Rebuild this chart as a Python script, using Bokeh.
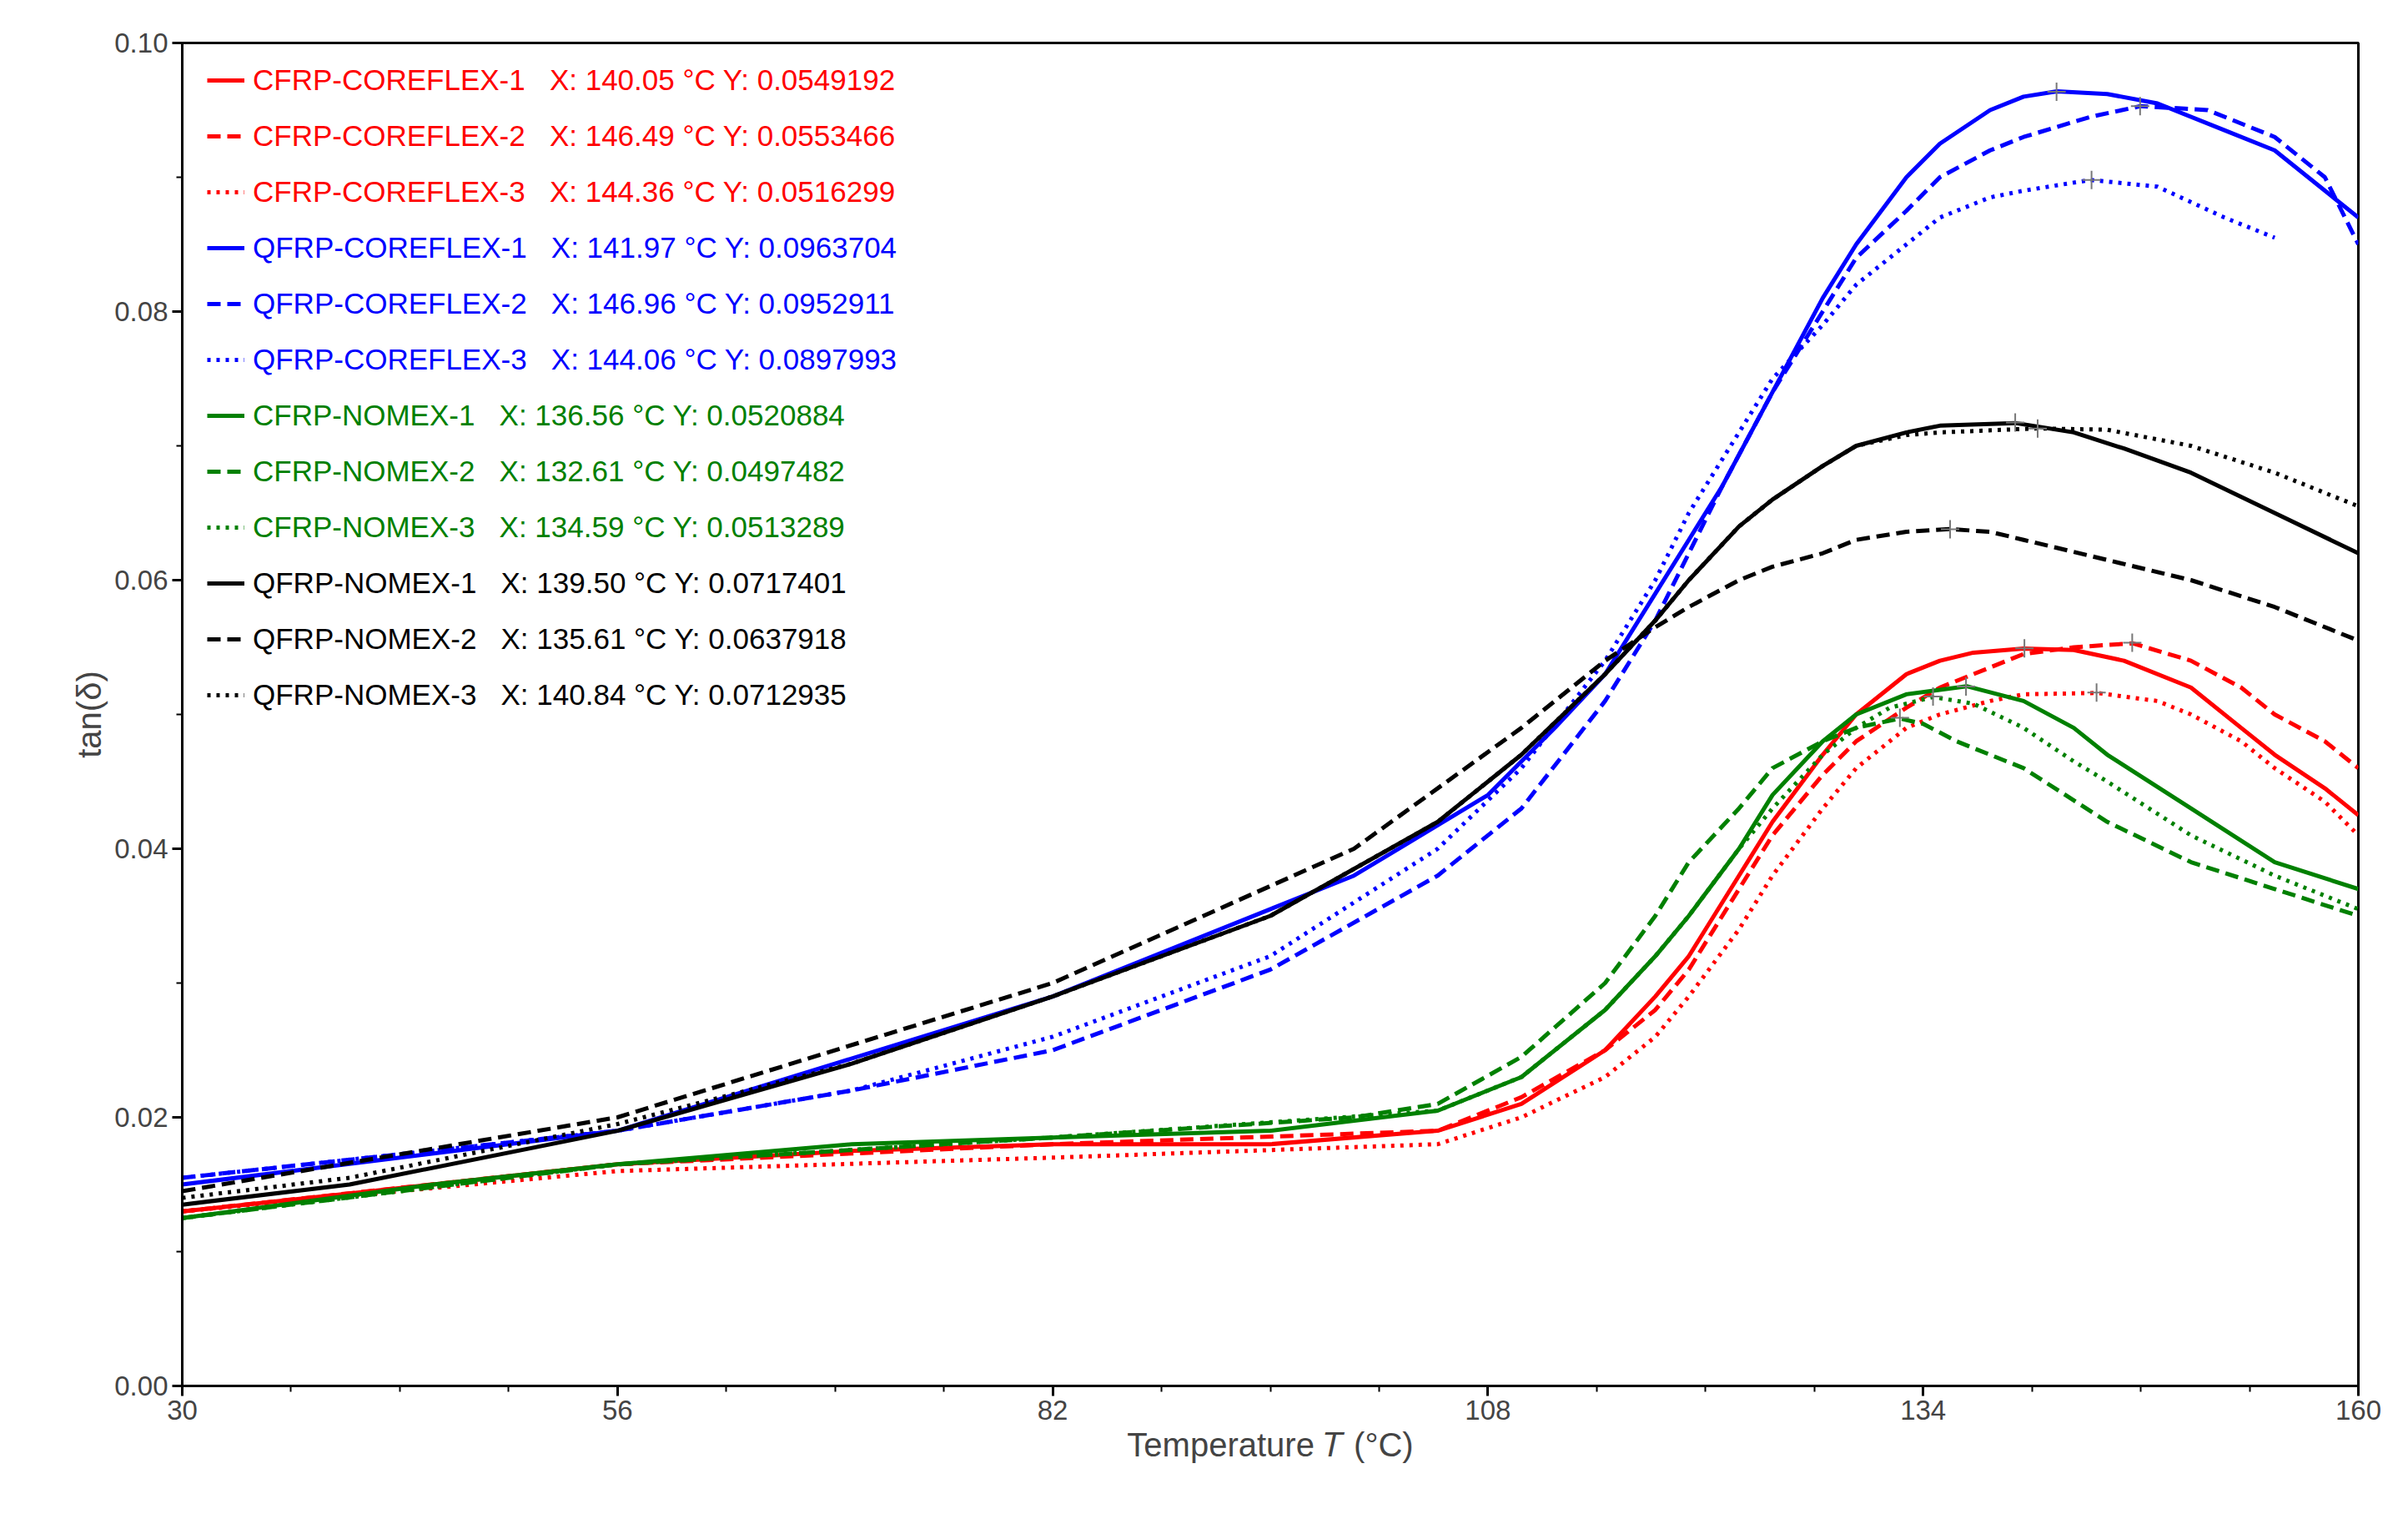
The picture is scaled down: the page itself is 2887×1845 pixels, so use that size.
from bokeh.plotting import figure
from bokeh.models import Legend, LegendItem, FixedTicker, Range1d, CustomJSTickFormatter
from bokeh.embed import file_html
from bokeh.resources import INLINE

# ---- data ----
qc1_x = [30,56,82,100,108,112,115,118,120,122,125,128,130,133,135,138,140,142,145,148,152,155,160]
qc1_y = [0.015,0.019,0.029,0.038,0.044,0.049,0.053,0.059,0.063,0.067,0.074,0.081,0.085,0.090,0.0925,0.095,0.096,0.0964,0.0962,0.0955,0.0935,0.092,0.087]
qc2_x = [30,56,70,82,95,105,110,115,118,120,122,125,128,130,133,135,138,140,144,147,151,155,158,160]
qc2_y = [0.0155,0.019,0.022,0.025,0.031,0.038,0.043,0.051,0.057,0.062,0.067,0.074,0.080,0.084,0.0875,0.090,0.092,0.093,0.0945,0.0953,0.095,0.093,0.090,0.085]
qc3_x = [30,56,70,82,95,105,110,115,118,120,122,125,128,130,133,135,138,140,144,148,152,155]
qc3_y = [0.0155,0.019,0.022,0.026,0.032,0.040,0.046,0.054,0.060,0.065,0.069,0.075,0.079,0.082,0.085,0.087,0.0885,0.089,0.0898,0.0893,0.087,0.0855]
qn1_x = [30,40,56,70,82,95,105,110,115,118,120,123,125,128,130,133,135,139.5,143,146,150,155,160]
qn1_y = [0.0135,0.015,0.019,0.024,0.029,0.035,0.042,0.047,0.053,0.057,0.060,0.064,0.066,0.0685,0.070,0.071,0.0715,0.0717,0.071,0.0698,0.068,0.065,0.062]
qn2_x = [30,56,82,100,110,115,118,120,123,125,128,130,133,135.6,138,140,145,150,155,160]
qn2_y = [0.0145,0.020,0.030,0.040,0.049,0.054,0.0565,0.058,0.060,0.061,0.062,0.063,0.0636,0.0638,0.0636,0.063,0.0615,0.060,0.058,0.0555]
qn3_x = [30,40,56,70,82,95,105,110,115,118,120,123,125,128,130,133,135,140.8,145,150,155,160]
qn3_y = [0.014,0.0155,0.0195,0.024,0.029,0.035,0.042,0.047,0.053,0.057,0.060,0.064,0.066,0.0685,0.070,0.0708,0.071,0.0713,0.0712,0.070,0.068,0.0655]
cc1_x = [30,45,56,70,82,95,105,110,115,118,120,123,125,128,130,133,135,137,140,143,146,150,153,155,158,160]
cc1_y = [0.013,0.015,0.0165,0.0175,0.018,0.018,0.019,0.021,0.025,0.029,0.032,0.038,0.042,0.047,0.050,0.053,0.054,0.0546,0.0549,0.0548,0.054,0.052,0.049,0.047,0.0445,0.0425]
cc2_x = [30,56,82,105,110,115,118,120,123,125,128,130,133,135,138,140,143,146.5,150,153,155,158,160]
cc2_y = [0.013,0.0165,0.018,0.019,0.0215,0.025,0.028,0.031,0.037,0.041,0.0455,0.048,0.0505,0.052,0.0535,0.0545,0.055,0.0553,0.054,0.052,0.050,0.048,0.046]
cc3_x = [30,56,82,105,110,115,118,120,123,125,128,130,133,135,138,140,144.4,148,150,153,155,158,160]
cc3_y = [0.013,0.016,0.017,0.018,0.020,0.023,0.026,0.029,0.034,0.038,0.043,0.046,0.049,0.050,0.051,0.0515,0.0516,0.051,0.050,0.048,0.046,0.0435,0.041]
cn1_x = [30,45,56,70,82,95,105,110,115,118,120,123,125,128,130,133,136.6,140,143,145,150,155,160]
cn1_y = [0.0125,0.015,0.0165,0.018,0.0185,0.019,0.0205,0.023,0.028,0.032,0.035,0.040,0.044,0.048,0.050,0.0515,0.0521,0.051,0.049,0.047,0.043,0.039,0.037]
cn2_x = [30,56,82,100,105,110,115,118,120,123,125,128,130,132.6,134,136,140,145,150,155,160]
cn2_y = [0.0125,0.0165,0.0185,0.020,0.021,0.0245,0.030,0.035,0.039,0.043,0.046,0.048,0.049,0.0497,0.0493,0.048,0.046,0.042,0.039,0.037,0.035]
cn3_x = [30,56,82,105,110,115,118,120,123,125,128,130,132,134.6,137,140,143,145,150,155,160]
cn3_y = [0.0125,0.0165,0.0185,0.0205,0.023,0.028,0.032,0.035,0.040,0.043,0.047,0.049,0.0505,0.0513,0.0508,0.049,0.0465,0.045,0.041,0.038,0.0355]

peak_x = [140.05,146.49,144.36,141.97,146.96,144.06,136.56,132.61,134.59,139.50,135.61,140.84]
peak_y = [0.0549192,0.0553466,0.0516299,0.0963704,0.0952911,0.0897993,0.0520884,0.0497482,0.0513289,0.0717401,0.0637918,0.0712935]
names = ["CFRP-COREFLEX-1","CFRP-COREFLEX-2","CFRP-COREFLEX-3",
         "QFRP-COREFLEX-1","QFRP-COREFLEX-2","QFRP-COREFLEX-3",
         "CFRP-NOMEX-1","CFRP-NOMEX-2","CFRP-NOMEX-3",
         "QFRP-NOMEX-1","QFRP-NOMEX-2","QFRP-NOMEX-3"]
x_ticks = [30,56,82,108,134,160]
y_ticks = [0.0,0.02,0.04,0.06,0.08,0.10]

series = [(cc1_x,cc1_y),(cc2_x,cc2_y),(cc3_x,cc3_y),
          (qc1_x,qc1_y),(qc2_x,qc2_y),(qc3_x,qc3_y),
          (cn1_x,cn1_y),(cn2_x,cn2_y),(cn3_x,cn3_y),
          (qn1_x,qn1_y),(qn2_x,qn2_y),(qn3_x,qn3_y)]
colors = ["#ff0000"]*3 + ["#0000ff"]*3 + ["#008000"]*3 + ["#000000"]*3
dashes = ["solid","16 8","4 7"]*4

p = figure(width=2870, height=1829, output_backend="svg", toolbar_location=None,
           x_range=Range1d(30,160), y_range=Range1d(0,0.1),
           min_border_left=218, min_border_right=43, min_border_top=51, min_border_bottom=168)
p.grid.visible = False
p.outline_line_color = "black"; p.outline_line_width = 3
for ax in (p.xaxis[0], p.yaxis[0]):
    ax.axis_line_width = 3
    ax.major_tick_line_width = 3; ax.minor_tick_line_width = 2
    ax.major_tick_out = 12; ax.major_tick_in = 0
    ax.minor_tick_out = 7; ax.minor_tick_in = 0
    ax.major_label_text_font_size = "33px"
    ax.major_label_text_font = "Liberation Sans"
    ax.axis_label_text_font = "Liberation Sans"
    ax.axis_label_text_font_size = "40px"
    ax.axis_label_text_font_style = "normal"
p.xaxis.ticker = FixedTicker(ticks=x_ticks, minor_ticks=[30+6.5*i for i in range(21)])
p.yaxis.ticker = FixedTicker(ticks=y_ticks, minor_ticks=[0.01*i for i in range(11)])
p.yaxis.formatter = CustomJSTickFormatter(code="return tick.toFixed(2);")
p.xaxis.axis_label = "Temperature 𝑇 (°C)"
p.yaxis.axis_label = "tan(δ)"

renderers = []
for (xs, ys), c, d in zip(series, colors, dashes):
    renderers.append(p.line(xs, ys, line_color=c, line_width=5, line_dash=d))
p.scatter(peak_x, peak_y, marker="cross", size=22, line_color="#777777", line_width=2)

for i in range(12):
    lab = f"{names[i]}   X: {peak_x[i]:.2f} °C Y: {peak_y[i]:.7f}"
    lg = Legend(items=[LegendItem(label=lab, renderers=[renderers[i]])],
                location=(30, 1545 - 67*i), background_fill_alpha=0,
                border_line_alpha=0, label_text_color=colors[i], label_text_font_size="35px",
                label_text_font="Liberation Sans", glyph_width=45, glyph_height=30,
                label_height=30, padding=0, margin=0, label_standoff=10)
    p.add_layout(lg, "center")

open("out.html", "w").write(file_html(p, INLINE))
